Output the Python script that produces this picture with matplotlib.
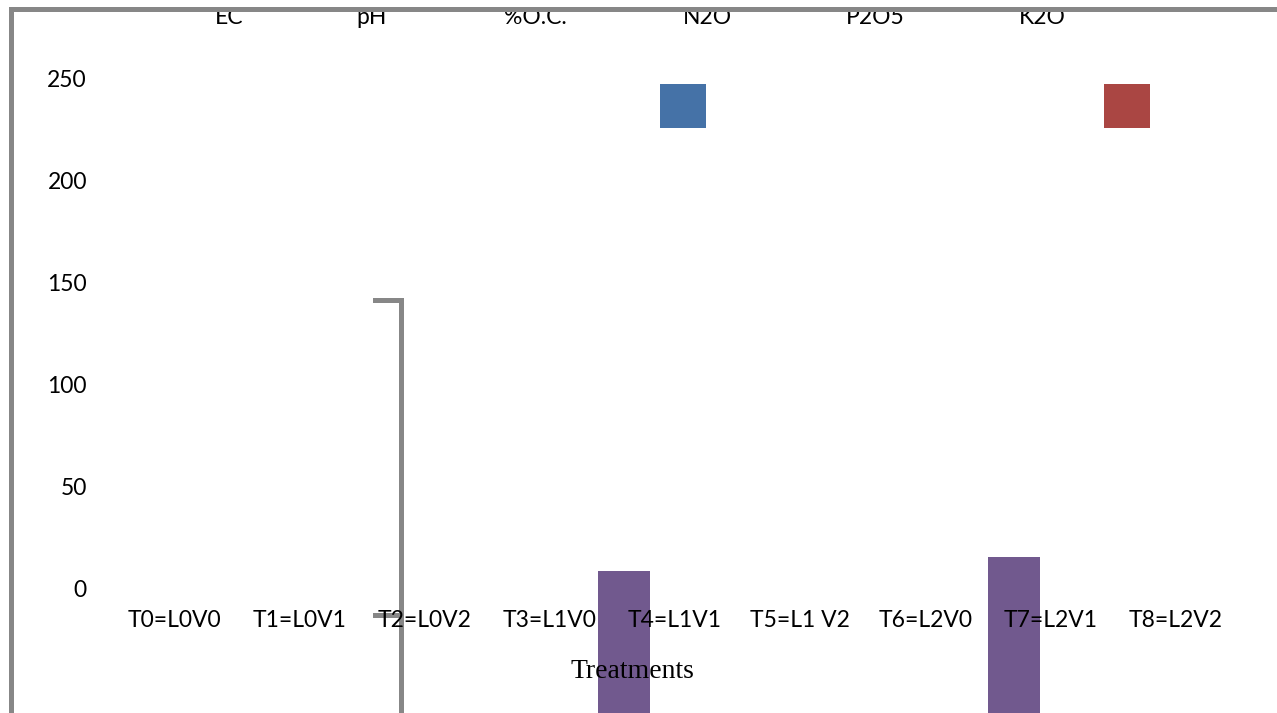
import matplotlib.pyplot as plt
import matplotlib.transforms as mtransforms

# Datos del gráfico
tratamientos = ['T0=L0V0', 'T1=L0V1', 'T2=L0V2', 'T3=L1V0', 'T4=L1V1',
                'T5=L1 V2', 'T6=L2V0', 'T7=L2V1', 'T8=L2V2']
series = ['EC', 'pH', '%O.C.', 'N2O', 'P2O5', 'K2O']
y_ticks = [0, 50, 100, 150, 200, 250]

# Barras moradas visibles (valor, tratamiento donde caen)
valores_morado = [8.3, 15.2]
trat_morado = [3, 6]

# Cuadros de leyenda (inicio y fin en el eje y)
leyenda_base = 225.7
leyenda_tope = 247.3

# Soporte gris (tope y pie)
soporte_tope = 141.3
soporte_pie = -13.2

gris = '#878787'
morado = '#71598e'
azul = '#4572a7'
rojo = '#aa4643'

fig = plt.figure(figsize=(12.77, 7.13), dpi=100)
ax = fig.add_axes([0, 0, 1, 1])
ax.set_xlim(-1.389, 8.806)
ax.set_ylim(-61.3, 288.5)
ax.axis('off')

# Barras moradas, su base queda por debajo del borde inferior
x_morado = [t + d for t, d in zip(trat_morado, [0.593, 0.707])]
ax.bar(x_morado, [v + 80 for v in valores_morado], bottom=-80,
       width=0.415, color=morado, zorder=2)

# Cuadros de color de la leyenda
ax.bar([4.064], [leyenda_tope - leyenda_base], bottom=leyenda_base,
       width=0.367, color=azul, zorder=2)
ax.bar([7.609], [leyenda_tope - leyenda_base], bottom=leyenda_base,
       width=0.367, color=rojo, zorder=2)

# Soporte gris en forma de corchete
x_sop = 1.812
ax.plot([1.605, x_sop, x_sop], [soporte_tope, soporte_tope, -80],
        color=gris, lw=3.6, solid_joinstyle='miter', zorder=1, clip_on=True)
ax.plot([1.605, x_sop], [soporte_pie, soporte_pie], color=gris, lw=3.6,
        zorder=1)

fuente = 'Lato'

# Etiquetas del eje y
trans_y = mtransforms.blended_transform_factory(ax.transAxes, ax.transData)
trans_y = mtransforms.offset_copy(trans_y, fig=fig, y=-9, units='dots')
for v in y_ticks:
    ax.text(87 / 1277, v, str(v), transform=trans_y, ha='right',
            va='baseline', fontsize=16.5, family=fuente, zorder=3)

# Etiquetas de tratamientos
trans_x = mtransforms.blended_transform_factory(ax.transData, ax.transAxes)
for i, t in enumerate(tratamientos):
    ax.text(i, 1 - 627 / 713, t, transform=trans_x, ha='center',
            va='baseline', fontsize=16.5, family=fuente, zorder=3)

ax.text(632.5 / 1277, 1 - 678 / 713, 'Treatments', transform=ax.transAxes,
        ha='center', va='baseline', fontsize=20, family='Liberation Serif',
        zorder=3)

# Nombres de las series arriba
for s, xp in zip(series, [229, 372, 535, 707, 875, 1042]):
    ax.text(xp / 1277, 1 - 24 / 713, s, transform=ax.transAxes,
            ha='center', va='baseline', fontsize=16.5, family=fuente,
            zorder=3)

# Marco gris izquierdo y superior
ax.plot([10.5 / 1277, 10.5 / 1277, 1.01], [-0.01, 1 - 9 / 713, 1 - 9 / 713],
        transform=ax.transAxes, color=gris, lw=3.6,
        solid_joinstyle='miter', clip_on=False, zorder=5)

plt.savefig('out.png', dpi=100)
